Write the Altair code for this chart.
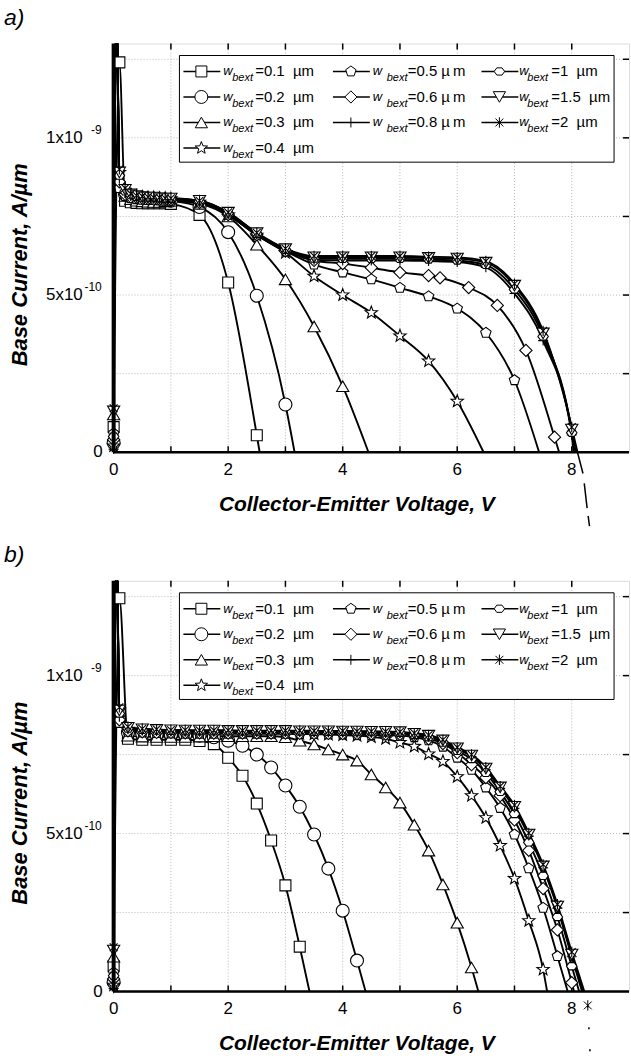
import math
import altair as alt
import pandas as pd

# ---------------------------------------------------------------------------
# Data: base current vs collector-emitter voltage for several w_bext values.
# Currents are given in units of 1e-10 A/um.
# ---------------------------------------------------------------------------
WIDTH_LABELS = ["0.1", "0.2", "0.3", "0.4", "0.5", "0.6", "0.8", "1", "1.5", "2"]
LEGEND_REST = ["=0.1\u00a0\u00a0\u00b5m", "=0.2\u00a0\u00a0\u00b5m", "=0.3\u00a0\u00a0\u00b5m",
               "=0.4\u00a0\u00a0\u00b5m", "=0.5 \u00b5\u2009m", "=0.6 \u00b5\u2009m",
               "=0.8 \u00b5\u2009m", "=1\u00a0\u00a0\u00b5m", "=1.5\u00a0\u00a0\u00b5m",
               "=2\u00a0\u00a0\u00b5m"]

# voltage sweep points, panel a
VA = [0, 0.1, 0.2, 0.3, 0.4, 0.5, 0.6, 0.7, 0.8, 0.9, 1.0,
      1.5, 2.0, 2.5, 3.0, 3.5, 4.0, 4.5, 5.0, 5.5, 6.0, 6.5, 7.0, 7.5, 8.0]
VA_06 = [0, 0.1, 0.2, 0.3, 0.4, 0.5, 0.6, 0.7, 0.8, 0.9, 1.0,
         1.5, 2.0, 2.5, 3.0, 3.5, 4.0, 4.5, 5.0, 5.5, 5.7, 6.2, 6.7, 7.2, 7.7]

A_01 = [0.8, 12.4, 8.0, 7.95, 7.93, 7.92, 7.92, 7.92, 7.92, 7.92, 7.9, 7.55, 5.4, 0.54]
A_02 = [0.3, 8.5, 8.2, 8.1, 8.05, 8.05, 8.03, 8.03, 8.02, 8.02, 8.0, 7.8, 7.0, 4.98, 1.52]
A_03 = [1.2, 8.7, 8.15, 8.05, 8.0, 7.98, 7.97, 7.96, 7.96, 7.98, 8.0,
        7.9, 7.5, 6.6, 5.5, 4.0, 2.1]
A_04 = [0.2, 8.9, 8.3, 8.2, 8.15, 8.12, 8.1, 8.1, 8.08, 8.08, 8.06,
        7.95, 7.55, 6.9, 6.35, 5.6, 5.0, 4.44, 3.7, 2.9, 1.62]
A_05 = [0.6, 8.4, 8.15, 8.08, 8.05, 8.03, 8.02, 8.02, 8.01, 8.0, 8.0,
        7.95, 7.55, 6.9, 6.4, 5.97, 5.72, 5.5, 5.23, 4.96, 4.57, 3.8, 2.29]
A_06 = [0.4, 8.6, 8.2, 8.12, 8.1, 8.08, 8.06, 8.05, 8.05, 8.04, 8.03,
        7.95, 7.56, 6.92, 6.4, 6.1, 6.0, 5.87, 5.72, 5.62, 5.55, 5.24, 4.67, 3.24, 0.48]
A_08 = [0.1, 8.7, 8.25, 8.15, 8.1, 8.1, 8.08, 8.07, 8.06, 8.05, 8.05,
        7.97, 7.58, 6.93, 6.42, 6.12, 6.1, 6.1, 6.1, 6.08, 6.05, 5.88, 5.05, 3.55, 0.55]
A_1 = [0.5, 8.8, 8.3, 8.18, 8.12, 8.1, 8.1, 8.08, 8.07, 8.06, 8.06,
       7.98, 7.6, 6.95, 6.44, 6.16, 6.15, 6.15, 6.15, 6.13, 6.1, 5.96, 5.18, 3.68, 0.62]
A_15 = [1.3, 8.9, 8.35, 8.2, 8.15, 8.12, 8.1, 8.1, 8.08, 8.07, 8.07,
        8.0, 7.62, 6.97, 6.46, 6.2, 6.2, 6.2, 6.2, 6.18, 6.16, 6.03, 5.3, 3.78, 0.72]
A_2 = [1.4, 9.0, 8.4, 8.22, 8.16, 8.14, 8.12, 8.1, 8.1, 8.08, 8.08,
       8.0, 7.63, 6.98, 6.48, 6.24, 6.24, 6.24, 6.24, 6.22, 6.2, 6.08, 5.36, 3.86, 0.8]
ZERO_A = [2.55, 3.16, 4.45, 6.46, 7.43, 7.78, 8.03, 8.05, 8.07, 8.1]

# voltage sweep points, panel b
VB = [0, 0.1, 0.25, 0.5, 0.75, 1.0, 1.25, 1.5, 1.75, 2.0, 2.25, 2.5, 2.75, 3.0,
      3.25, 3.5, 3.75, 4.0, 4.25, 4.5, 4.75, 5.0, 5.25, 5.5, 5.75, 6.0, 6.25,
      6.5, 6.75, 7.0, 7.25, 7.5, 7.75, 8.0]

B_01 = [0.8, 12.45, 8.0, 7.97, 7.97, 7.97, 7.97, 7.93, 7.83, 7.4, 6.83, 5.95, 4.78, 3.36, 1.42]
B_02 = [0.3, 8.6, 8.2, 8.15, 8.13, 8.12, 8.12, 8.1, 8.05, 7.94, 7.78, 7.5, 7.09, 6.52,
        5.85, 4.97, 3.89, 2.56, 0.98]
B_03 = [1.1, 8.7, 8.1, 8.07, 8.06, 8.06, 8.06, 8.07, 8.08, 8.08, 8.08, 8.08, 8.08, 8.05,
        7.94, 7.82, 7.66, 7.5, 7.31, 6.87, 6.46, 5.98, 5.28, 4.46, 3.39, 2.18, 0.76]
B_04 = [0.2, 8.9, 8.3, 8.25, 8.22, 8.2, 8.2, 8.2, 8.2, 8.2, 8.2, 8.2, 8.18, 8.17,
        8.16, 8.15, 8.14, 8.12, 8.1, 8.06, 8.0, 7.88, 7.76, 7.52, 7.28, 6.8, 6.2,
        5.5, 4.62, 3.58, 2.24, 0.7]
B_05 = [0.6, 8.5, 8.22, 8.2, 8.18, 8.17, 8.16, 8.16, 8.16, 8.16, 8.16, 8.16, 8.16, 8.16,
        8.15, 8.15, 8.14, 8.14, 8.13, 8.12, 8.11, 8.1, 8.05, 7.95, 7.75, 7.4, 7.02,
        6.46, 5.81, 4.97, 3.9, 2.65, 1.12]
B_06 = [0.4, 8.6, 8.25, 8.22, 8.2, 8.2, 8.19, 8.19, 8.18, 8.18, 8.18, 8.18, 8.18, 8.18,
        8.17, 8.17, 8.17, 8.16, 8.16, 8.15, 8.15, 8.14, 8.1, 8.0, 7.85, 7.56, 7.18,
        6.77, 6.2, 5.43, 4.47, 3.26, 1.95, 0.28]
B_08 = [0.1, 8.7, 8.3, 8.27, 8.25, 8.24, 8.23, 8.23, 8.23, 8.23, 8.22, 8.22, 8.22, 8.22,
        8.22, 8.21, 8.21, 8.21, 8.2, 8.2, 8.19, 8.18, 8.14, 8.08, 7.92, 7.68, 7.44,
        7.02, 6.43, 5.8, 4.92, 3.92, 2.64, 1.1]
B_1 = [0.5, 8.8, 8.32, 8.28, 8.26, 8.25, 8.24, 8.24, 8.24, 8.24, 8.23, 8.23, 8.23, 8.23,
       8.23, 8.22, 8.22, 8.22, 8.21, 8.21, 8.2, 8.19, 8.12, 8.05, 7.88, 7.62, 7.36,
       6.92, 6.32, 5.62, 4.72, 3.66, 2.36, 0.8]
B_15 = [1.3, 8.9, 8.35, 8.3, 8.28, 8.27, 8.26, 8.26, 8.26, 8.25, 8.25, 8.25, 8.25, 8.25,
        8.24, 8.24, 8.24, 8.23, 8.23, 8.22, 8.22, 8.21, 8.16, 8.1, 7.95, 7.7, 7.47,
        7.06, 6.46, 5.85, 4.97, 3.96, 2.69, 1.17]
B_2 = [1.4, 9.0, 8.38, 8.32, 8.3, 8.28, 8.28, 8.27, 8.27, 8.27, 8.26, 8.26, 8.26, 8.26,
       8.26, 8.25, 8.25, 8.25, 8.24, 8.24, 8.23, 8.22, 8.18, 8.12, 7.97, 7.73, 7.5,
       7.1, 6.5, 5.9, 5.02, 4.02, 2.76, 1.25]
ZERO_B = [3.42, 4.4, 6.37, 7.57, 7.93, 8.04, 8.18, 8.13, 8.2, 8.22]

# turn-on spike right after 0 V (runs off the top of the plot)
SPIKE_V = 0.05
SPIKE_I = 14.5

# w_bext = 2 um trace continuing below zero current
TAIL_A_V = [8.1, 8.2, 8.27, 8.31]
TAIL_A_I = [0.0, -0.7, -1.8, -2.35]
TAIL_B_V = [8.28, 8.32]
TAIL_B_I = [-0.44, -1.95]

# axes
X_MAX = 9.0
Y_MAX = 13.0
GRID_X = [1, 2, 3, 4, 5, 6, 7, 8]
GRID_Y = [2.5, 5.0, 7.5, 10.0, 12.5]
X_TICK_VALUES = [0, 2, 4, 6, 8]
Y_TICK_VALUES = [0, 5, 10]
Y_TICK_MAIN = ["0", "5x10", "1x10"]
Y_TICK_EXP = ["", "-10", "-9"]
X_TITLE = "Collector-Emitter Voltage, V"
Y_TITLE = "Base Current, A/\u00b5m"

# ---------------------------------------------------------------------------
# Marker symbols
# ---------------------------------------------------------------------------
def polygon(n, start_deg, radii=(1.0,), sy=1.0):
    k = n * len(radii)
    pts = []
    for i in range(k):
        a = math.radians(start_deg + 360.0 * i / k)
        r = radii[i % len(radii)]
        pts.append((r * math.cos(a), sy * r * math.sin(a)))
    return "M" + "L".join(f"{x:.3f},{y:.3f}" for x, y in pts) + "Z"


STAR = polygon(5, -90, radii=(1.0, 0.42))
PENTAGON = polygon(5, -90)
HEXAGON = polygon(6, 0, sy=0.8)
PLUS = "M0,-1L0,1M-1,0L1,0"
ASTERISK = "M-0.75,-0.75L0.75,0.75M-0.75,0.75L0.75,-0.75M0,-1L0,1"

SHAPES = ["square", "circle", "triangle-up", STAR, PENTAGON, "diamond", PLUS, HEXAGON,
          "triangle-down", ASTERISK]
SIZES = [121, 169, 150, 170, 120, 150, 100, 110, 150, 110]

FONT = "Liberation Sans"
W = 517
SCALE = 1e-10


def build_frames(v_lists, i_lists, zeros):
    pts, lines = [], []
    for k, lab in enumerate(WIDTH_LABELS):
        v, cur = v_lists[k], i_lists[k]
        trace = list(zip(v, cur))
        for vv, ii in trace:
            pts.append(dict(series=lab, V=vv, I=ii * SCALE, shp=SHAPES[k], sz=SIZES[k]))
        if k != 0:
            trace.append((SPIKE_V, SPIKE_I))
        trace.append((zeros[k], 0.0))
        trace.sort()
        for n, (vv, ii) in enumerate(trace):
            lines.append(dict(series=lab, V=vv, I=ii * SCALE, n=n))
    return pd.DataFrame(pts), pd.DataFrame(lines)


def legend_frame():
    cols = [0, 0, 0, 0, 1, 1, 1, 2, 2, 2]
    rows = [0, 1, 2, 3, 0, 1, 2, 0, 1, 2]
    col_x = [70, 220, 369]
    w_dx = [40, 40, 38]
    b_dx = [49, 54, 46]
    r_dx = [72, 75, 70]
    recs = []
    for k, lab in enumerate(WIDTH_LABELS):
        c, r = cols[k], rows[k]
        x0 = col_x[c]
        y = 28 + r * 25.6
        recs.append(dict(series=lab, x0=x0, x1=x0 + 37, xm=x0 + 18, y=y,
                         xw=x0 + w_dx[c], xb=x0 + b_dx[c], xr=x0 + r_dx[c],
                         w="w", sub="bext", rest=LEGEND_REST[k],
                         shp=SHAPES[k], sz=SIZES[k]))
    return pd.DataFrame(recs)


def panel(v_lists, i_lists, zeros, H, tag, tail_v, tail_i, tail_marker):
    xs = alt.Scale(domain=[0, X_MAX], nice=False, zero=False)
    ys = alt.Scale(domain=[0, Y_MAX * SCALE], nice=False, zero=False)
    X = lambda f: alt.X(f, type="quantitative", scale=xs, axis=None)
    Y = lambda f: alt.Y(f, type="quantitative", scale=ys, axis=None)
    RAWX = lambda f: alt.X(f, type="quantitative", scale=None, axis=None)
    RAWY = lambda f: alt.Y(f, type="quantitative", scale=None, axis=None)

    pts, lines = build_frames(v_lists, i_lists, zeros)

    gx = pd.DataFrame({"V": GRID_X})
    gy = pd.DataFrame({"I": [g * SCALE for g in GRID_Y]})
    grid_x = alt.Chart(gx).mark_rule(color="#b8b8b8", strokeDash=[1, 2], strokeWidth=1).encode(x=X("V"))
    grid_y = alt.Chart(gy).mark_rule(color="#b8b8b8", strokeDash=[1, 2], strokeWidth=1).encode(y=Y("I"))

    tick_bottom = alt.Chart(gx).mark_rule(color="black", strokeWidth=1.5).encode(
        x=X("V"), y=alt.value(H), y2=alt.value(H - 6))
    tick_top = alt.Chart(gx).mark_rule(color="black", strokeWidth=1.5).encode(
        x=X("V"), y=alt.value(0), y2=alt.value(6))
    tick_right = alt.Chart(gy).mark_rule(color="black", strokeWidth=1.5).encode(
        y=Y("I"), x=alt.value(W), x2=alt.value(W - 6))

    axis_df = pd.DataFrame({"V": [0.0], "I": [0.0]})
    bottom_axis = alt.Chart(axis_df).mark_rule(color="black", strokeWidth=2.5).encode(y=Y("I"))
    left_axis = alt.Chart(axis_df).mark_rule(color="black", strokeWidth=4).encode(x=X("V"))

    # legend
    leg = legend_frame()
    box = alt.Chart(pd.DataFrame({"k": [0]})).mark_rect(
        fill="white", stroke="black", strokeWidth=1).encode(
        x=alt.value(66), x2=alt.value(502), y=alt.value(12), y2=alt.value(119))
    leg_line = alt.Chart(leg).mark_rule(color="black", strokeWidth=1.6).encode(
        x=RAWX("x0"), x2="x1", y=RAWY("y"))
    leg_mark = alt.Chart(leg).mark_point(filled=True, fill="white", stroke="black",
                                         strokeWidth=1, opacity=1).encode(
        x=RAWX("xm"), y=RAWY("y"),
        shape=alt.Shape("shp:N", scale=None), size=alt.Size("sz:Q", scale=None))
    leg_w = alt.Chart(leg).mark_text(align="left", baseline="middle", font=FONT,
                                     fontSize=13, fontStyle="italic").encode(
        x=RAWX("xw"), y=RAWY("y"), text="w:N")
    leg_sub = alt.Chart(leg).mark_text(align="left", baseline="middle", font=FONT,
                                       fontSize=11, fontStyle="italic", dy=7).encode(
        x=RAWX("xb"), y=RAWY("y"), text="sub:N")
    leg_rest = alt.Chart(leg).mark_text(align="left", baseline="middle", font=FONT,
                                        fontSize=15).encode(
        x=RAWX("xr"), y=RAWY("y"), text="rest:N")

    # curves
    curve = alt.Chart(lines).mark_line(color="black", strokeWidth=1.9, interpolate="monotone",
                                       clip=True).encode(
        x=X("V"), y=Y("I"), detail="series:N", order="n:Q")
    marks = alt.Chart(pts).mark_point(filled=True, fill="white", stroke="black",
                                      strokeWidth=1.1, opacity=1).encode(
        x=X("V"), y=Y("I"),
        shape=alt.Shape("shp:N", scale=None), size=alt.Size("sz:Q", scale=None))

    tail_df = pd.DataFrame({"V": tail_v, "I": [t * SCALE for t in tail_i]})
    if tail_marker:
        tail = alt.Chart(tail_df).mark_line(color="black", strokeWidth=1.6,
                                            strokeDash=[2, 20]).encode(x=X("V"), y=Y("I"))
        tail_pt = alt.Chart(tail_df.iloc[:1]).mark_point(
            shape=ASTERISK, size=110, stroke="black", strokeWidth=1, opacity=1).encode(
            x=X("V"), y=Y("I"))
        tails = [tail, tail_pt]
    else:
        tails = [alt.Chart(tail_df).mark_line(color="black", strokeWidth=1.5,
                                              strokeDash=[22, 10, 25, 8]).encode(
            x=X("V"), y=Y("I"))]

    # axis labels and titles
    xt = pd.DataFrame({"V": X_TICK_VALUES, "lab": [str(v) for v in X_TICK_VALUES]})
    x_labels = alt.Chart(xt).mark_text(baseline="middle", font=FONT, fontSize=17).encode(
        x=X("V"), y=alt.value(H + 18), text="lab:N")
    yt = pd.DataFrame({"I": [v * SCALE for v in Y_TICK_VALUES], "main": Y_TICK_MAIN,
                       "exp": Y_TICK_EXP})
    yt["lx"] = [-11 if e == "" else -31 for e in Y_TICK_EXP]
    y_main = alt.Chart(yt).mark_text(align="right", baseline="middle", font=FONT,
                                     fontSize=17).encode(
        x=RAWX("lx"), y=Y("I"), text="main:N")
    y_exp = alt.Chart(yt).mark_text(align="right", baseline="middle", font=FONT,
                                    fontSize=12, dy=-8).encode(
        x=alt.value(-12), y=Y("I"), text="exp:N")

    titles = pd.DataFrame({"xt": [X_TITLE], "yt": [Y_TITLE], "tag": [tag]})
    x_title = alt.Chart(titles).mark_text(font=FONT, fontSize=21, fontWeight="bold",
                                          fontStyle="italic", baseline="middle").encode(
        x=alt.value(244), y=alt.value(H + 53), text="xt:N")
    y_title = alt.Chart(titles).mark_text(font=FONT, fontSize=22, fontWeight="bold",
                                          fontStyle="italic", baseline="middle",
                                          angle=270).encode(
        x=alt.value(-94), y=alt.value(H / 2 + 17), text="yt:N")
    tag_text = alt.Chart(titles).mark_text(font=FONT, fontSize=23, fontStyle="italic",
                                           align="left", baseline="middle").encode(
        x=alt.value(-110), y=alt.value(-26), text="tag:N")

    layers = [grid_x, grid_y, box, leg_line, leg_mark, leg_w, leg_sub, leg_rest,
              tick_bottom, tick_top, tick_right, curve, marks] + tails + [
              bottom_axis, left_axis, x_labels, y_main, y_exp, x_title, y_title, tag_text]
    return alt.layer(*layers).resolve_scale(x="independent", y="independent").properties(
        width=W, height=H)


va_lists = [VA, VA, VA, VA, VA, VA_06, VA, VA, VA, VA]
va_lists = [v[:len(c)] for v, c in zip(va_lists, [A_01, A_02, A_03, A_04, A_05, A_06,
                                                    A_08, A_1, A_15, A_2])]
vb_lists = [VB[:len(c)] for c in [B_01, B_02, B_03, B_04, B_05, B_06, B_08, B_1, B_15, B_2]]

top = panel(va_lists, [A_01, A_02, A_03, A_04, A_05, A_06, A_08, A_1, A_15, A_2],
            ZERO_A, 410, "a)", TAIL_A_V, TAIL_A_I, False)
bottom = panel(vb_lists, [B_01, B_02, B_03, B_04, B_05, B_06, B_08, B_1, B_15, B_2],
               ZERO_B, 412, "b)", TAIL_B_V, TAIL_B_I, True)

chart = alt.vconcat(top, bottom, spacing=129, bounds="flush").properties(
    padding={"left": 3, "top": 4, "right": 0, "bottom": 0}
).configure_view(stroke="black", strokeWidth=2).configure(background="white")

chart.save("out.html", embed_options={"renderer": "svg", "actions": False})
